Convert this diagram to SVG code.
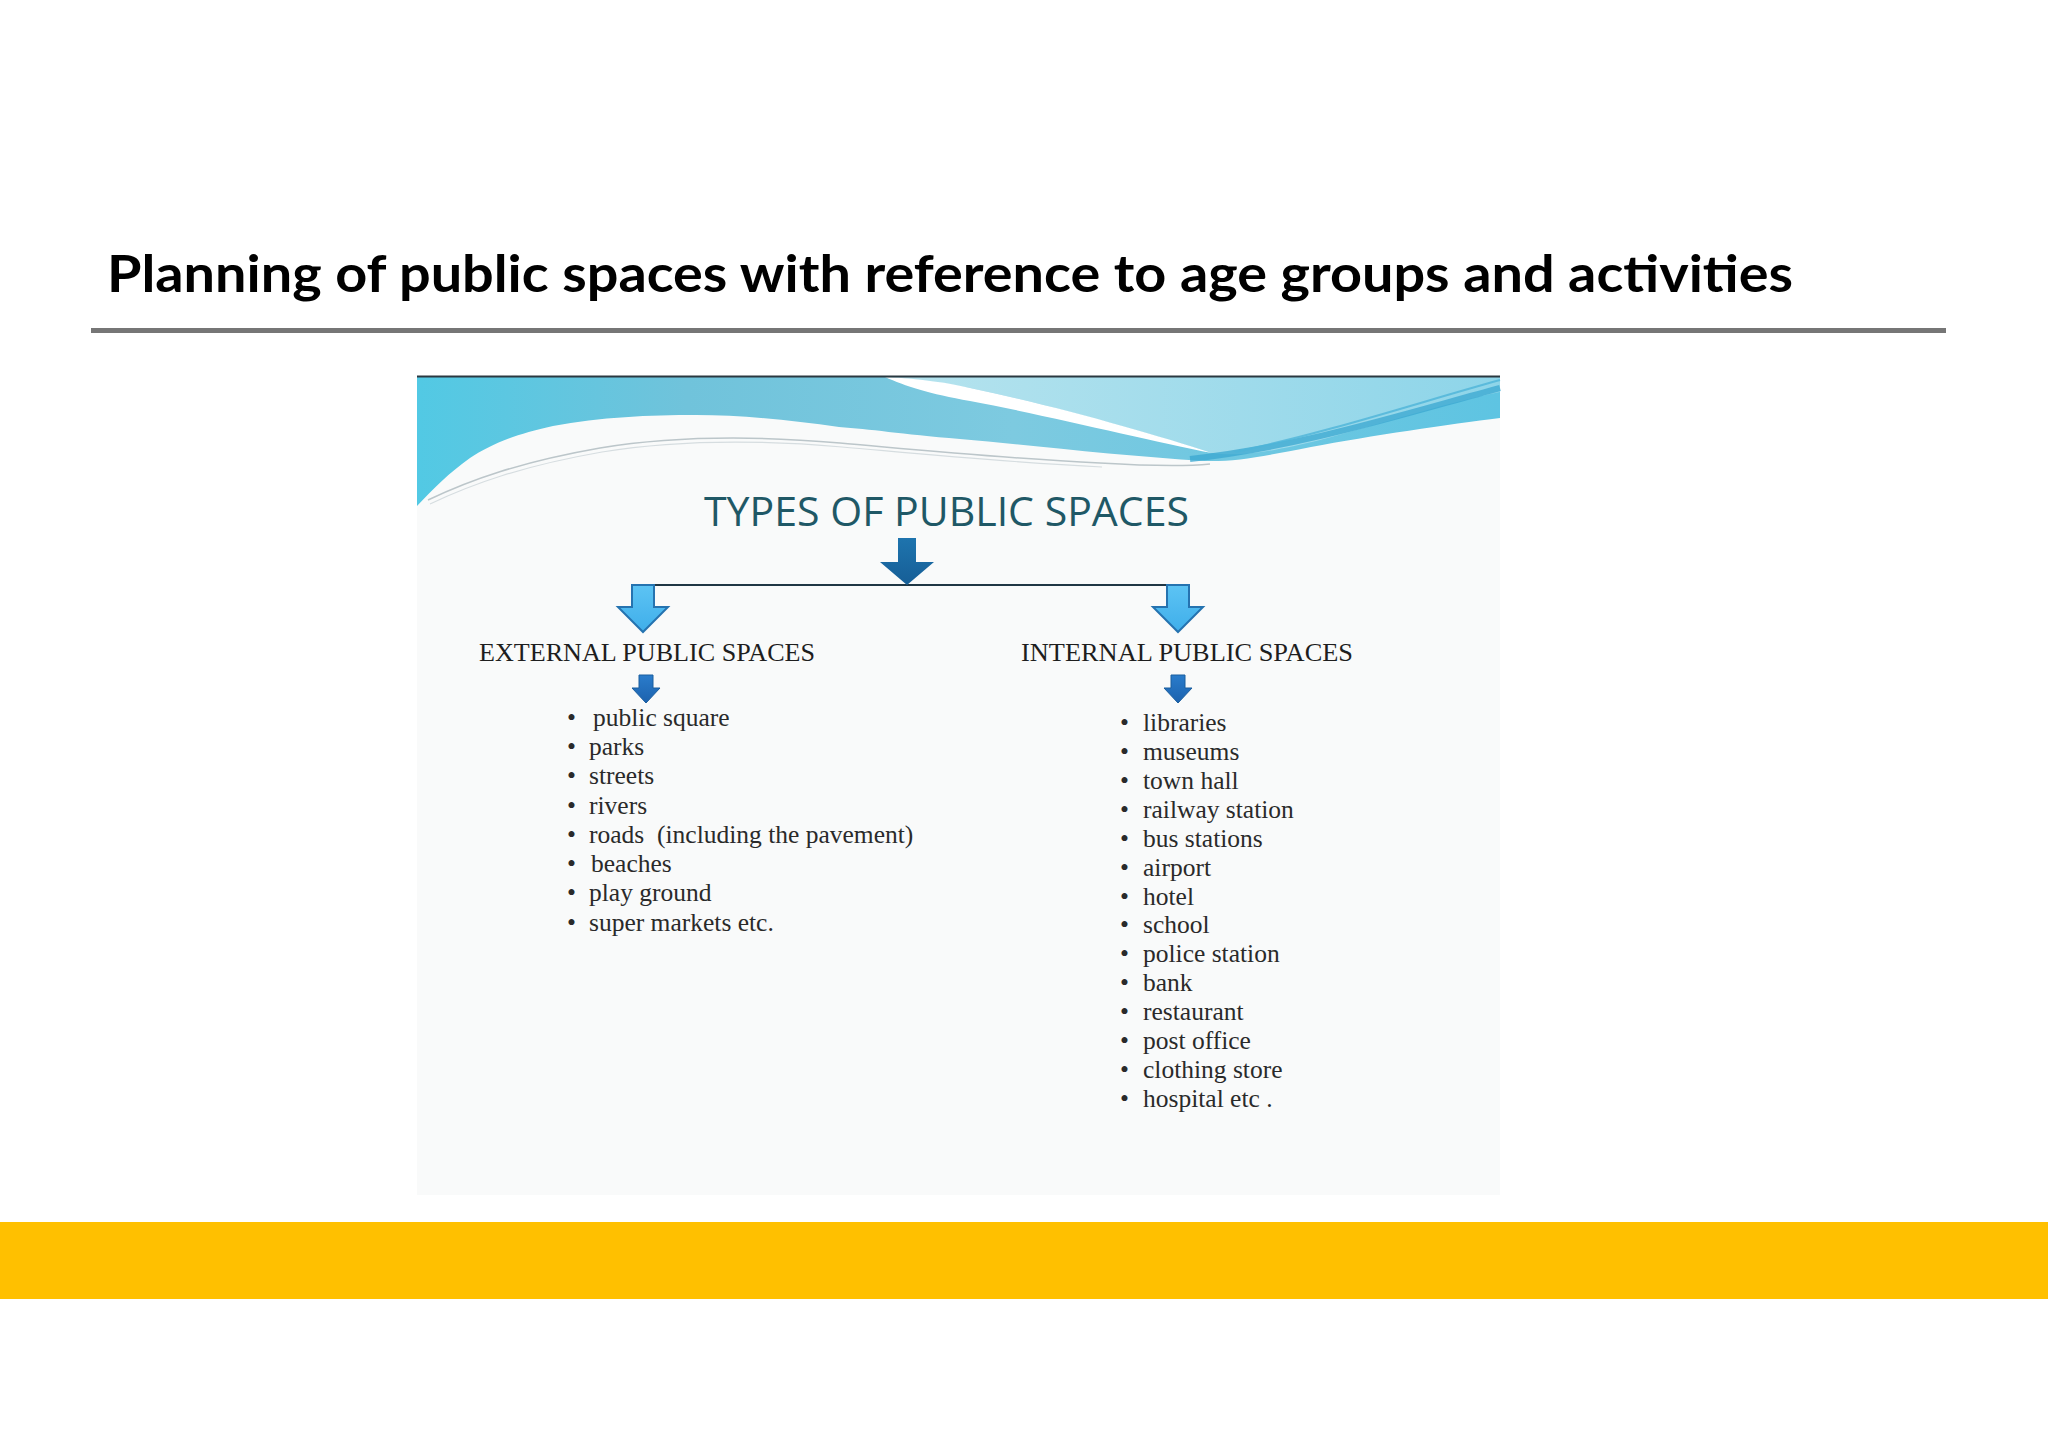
<svg xmlns="http://www.w3.org/2000/svg" width="2048" height="1448" viewBox="0 0 2048 1448">
  <defs>
    <linearGradient id="gBlue" x1="417" y1="0" x2="1500" y2="0" gradientUnits="userSpaceOnUse">
      <stop offset="0" stop-color="#52C9E4"/>
      <stop offset="0.25" stop-color="#70C3DB"/>
      <stop offset="0.55" stop-color="#7DCAE0"/>
      <stop offset="1" stop-color="#5EC4E2"/>
    </linearGradient>
    <linearGradient id="gLight" x1="900" y1="0" x2="1500" y2="0" gradientUnits="userSpaceOnUse">
      <stop offset="0" stop-color="#B5E3EE"/>
      <stop offset="1" stop-color="#8ED5E9"/>
    </linearGradient>
    <linearGradient id="gCenter" x1="0" y1="538" x2="0" y2="585" gradientUnits="userSpaceOnUse">
      <stop offset="0" stop-color="#1E74AE"/>
      <stop offset="1" stop-color="#165E96"/>
    </linearGradient>
    <linearGradient id="gSide" x1="0" y1="584" x2="0" y2="632" gradientUnits="userSpaceOnUse">
      <stop offset="0" stop-color="#5DC4F4"/>
      <stop offset="1" stop-color="#3FAEEA"/>
    </linearGradient>
    <linearGradient id="gSmall" x1="0" y1="675" x2="0" y2="703" gradientUnits="userSpaceOnUse">
      <stop offset="0" stop-color="#2A7CCB"/>
      <stop offset="1" stop-color="#1C62AE"/>
    </linearGradient>
    <style>
      .title { font-family: Lato, "Liberation Sans", sans-serif; font-weight: 700; font-size: 51px; fill: #000; }
      .types { font-family: "Open Sans", "Liberation Sans", sans-serif; font-size: 41px; fill: #1F5866; }
      .head { font-family: "Liberation Serif", serif; font-size: 26px; fill: #1E1E1E; }
      .item { font-family: "Liberation Serif", serif; font-size: 25.5px; fill: #2A2A2A; }
      .side { fill: url(#gSide); stroke: #2573B0; stroke-width: 2; stroke-linejoin: miter; }
      .small { fill: url(#gSmall); stroke: #1B5E9E; stroke-width: 1; }
    </style>
  </defs>

  <rect width="2048" height="1448" fill="#FFFFFF"/>

  <!-- slide title and rule -->
  <g id="title">
    <text class="title" x="107" y="292" textLength="1686" lengthAdjust="spacingAndGlyphs">Planning of public spaces with reference to age groups and activities</text>
    <rect x="91" y="328" width="1855" height="5" fill="#767676"/>
  </g>

  <!-- picture panel -->
  <g id="panel">
    <rect x="417" y="376" width="1083" height="819" fill="#F9FAFA"/>
    <path d="M417,377 H1500 V418 C1450,424 1370,436 1311,447 C1265,456 1235,462 1205,461 C1120,456 1030,445 960,439 C900,434 870,429 839,427 C790,420 740,415 696,415 C650,415 600,417 553,426 C515,434 490,445 470,458 C450,472 432,490 417,506 Z" fill="url(#gBlue)"/>
    <path d="M885,377 H1500 V392 C1450,402 1380,424 1320,440 C1270,452 1240,457 1212,453 C1150,434 1060,407 970,388 C940,382 912,379 885,377 Z" fill="url(#gLight)"/>
    <path d="M885,377 C922,379 950,383 970,388 C1060,407 1150,433 1212,453 C1150,441 1050,416 970,401 C930,394 905,386 885,377 Z" fill="#FFFFFF"/>
    <path d="M1190,459 C1300,447 1400,415 1500,388" fill="none" stroke="#3AA7D0" stroke-width="6" opacity="0.75"/>
    <path d="M1235,452 C1330,432 1420,402 1500,380" fill="none" stroke="#4DB4D8" stroke-width="2" opacity="0.8"/>
    <path d="M428,500 C470,480 520,462 600,448 C680,435 760,436 840,443 C920,450 1000,458 1100,463 C1150,466 1190,466 1210,464" fill="none" stroke="#BCC6CA" stroke-width="1.5"/>
    <path d="M430,504 C472,484 522,466 602,452 C682,439 762,440 842,447 C922,454 1002,462 1102,467" fill="none" stroke="#D6DDE0" stroke-width="1.2"/>
    <line x1="417" y1="376.5" x2="1500" y2="376.5" stroke="#2A3840" stroke-width="2"/>
  </g>

  <g id="types-of-public-spaces">
    <text class="types" x="704" y="526" textLength="485" lengthAdjust="spacingAndGlyphs">TYPES OF PUBLIC SPACES</text>
  </g>

  <g id="connectors">
    <line x1="632" y1="585" x2="1189" y2="585" stroke="#1F3644" stroke-width="2"/>
    <path d="M898,538 H916 V562 H934 L907,585 L880,562 H898 Z" fill="url(#gCenter)"/>
    <path class="side" d="M632,585 H654 V607 H668 L643,632 L618,607 H632 Z"/>
    <path class="side" d="M1167,585 H1189 V607 H1203 L1178,632 L1153,607 H1167 Z"/>
    <path class="small" d="M639,675 H653 V688 H660 L646,703 L632,688 H639 Z"/>
    <path class="small" d="M1171,675 H1185 V688 H1192 L1178,703 L1164,688 H1171 Z"/>
  </g>

  <g id="external">
    <text class="head" x="479" y="661" textLength="336" lengthAdjust="spacingAndGlyphs">EXTERNAL PUBLIC SPACES</text>
    <g class="item">
      <text y="726"><tspan x="567">•</tspan><tspan x="593">public square</tspan></text>
      <text y="755"><tspan x="567">•</tspan><tspan x="589">parks</tspan></text>
      <text y="784"><tspan x="567">•</tspan><tspan x="589">streets</tspan></text>
      <text y="814"><tspan x="567">•</tspan><tspan x="589">rivers</tspan></text>
      <text y="843"><tspan x="567">•</tspan><tspan x="589" xml:space="preserve">roads  (including the pavement)</tspan></text>
      <text y="872"><tspan x="567">•</tspan><tspan x="591">beaches</tspan></text>
      <text y="901"><tspan x="567">•</tspan><tspan x="589">play ground</tspan></text>
      <text y="931"><tspan x="567">•</tspan><tspan x="589">super markets etc.</tspan></text>
    </g>
  </g>

  <g id="internal">
    <text class="head" x="1021" y="661" textLength="332" lengthAdjust="spacingAndGlyphs">INTERNAL PUBLIC SPACES</text>
    <g class="item">
      <text y="731"><tspan x="1120">•</tspan><tspan x="1143">libraries</tspan></text>
      <text y="760"><tspan x="1120">•</tspan><tspan x="1143">museums</tspan></text>
      <text y="789"><tspan x="1120">•</tspan><tspan x="1143">town hall</tspan></text>
      <text y="818"><tspan x="1120">•</tspan><tspan x="1143">railway station</tspan></text>
      <text y="847"><tspan x="1120">•</tspan><tspan x="1143">bus stations</tspan></text>
      <text y="876"><tspan x="1120">•</tspan><tspan x="1143">airport</tspan></text>
      <text y="905"><tspan x="1120">•</tspan><tspan x="1143">hotel</tspan></text>
      <text y="933"><tspan x="1120">•</tspan><tspan x="1143">school</tspan></text>
      <text y="962"><tspan x="1120">•</tspan><tspan x="1143">police station</tspan></text>
      <text y="991"><tspan x="1120">•</tspan><tspan x="1143">bank</tspan></text>
      <text y="1020"><tspan x="1120">•</tspan><tspan x="1143">restaurant</tspan></text>
      <text y="1049"><tspan x="1120">•</tspan><tspan x="1143">post office</tspan></text>
      <text y="1078"><tspan x="1120">•</tspan><tspan x="1143">clothing store</tspan></text>
      <text y="1107"><tspan x="1120">•</tspan><tspan x="1143">hospital etc .</tspan></text>
    </g>
  </g>

  <g id="footer-band">
    <rect x="0" y="1222" width="2048" height="77" fill="#FFC000"/>
  </g>
</svg>
